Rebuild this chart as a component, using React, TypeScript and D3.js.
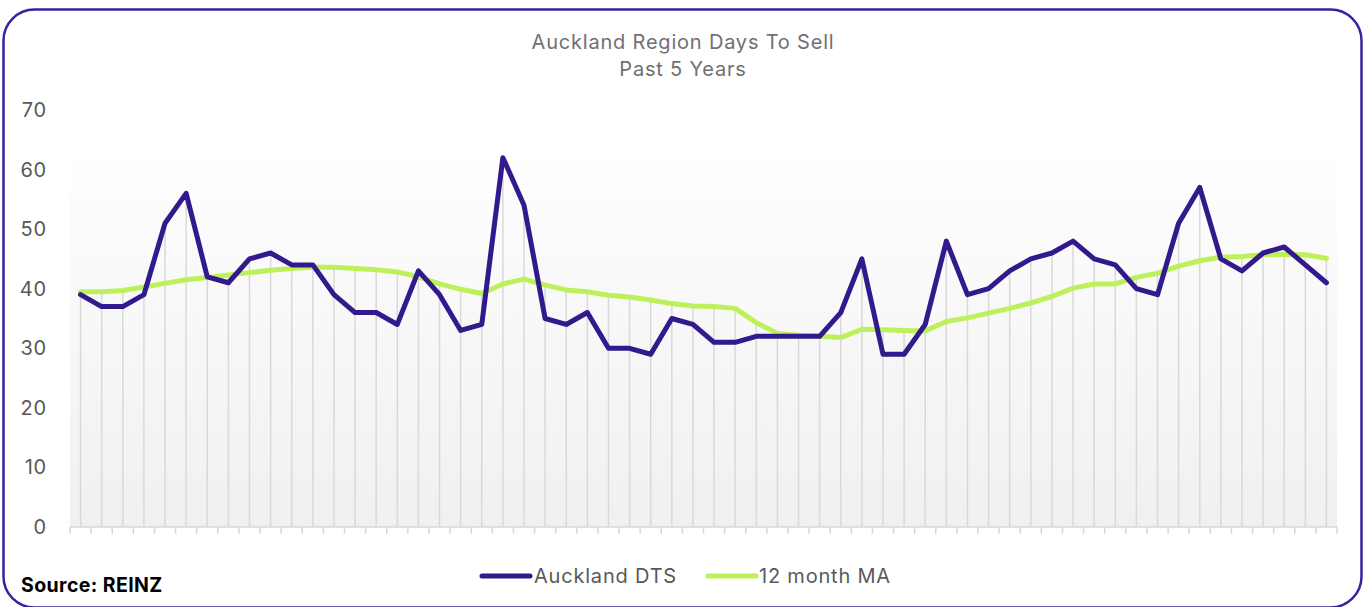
import React from "react";
import * as d3 from "d3";

const months: number[] = d3.range(60);
const dtsValues: number[] = [
  39, 37, 37, 39, 51, 56, 42, 41, 45, 46, 44, 44, 39, 36, 36, 34, 43, 39, 33, 34,
  62, 54, 35, 34, 36, 30, 30, 29, 35, 34, 31, 31, 32, 32, 32, 32, 36, 45, 29, 29,
  34, 48, 39, 40, 43, 45, 46, 48, 45, 44, 40, 39, 51, 57, 45, 43, 46, 47, 44, 41,
];
const maValues: number[] = [
  39.5, 39.5, 39.7, 40.3, 40.9, 41.5, 41.9, 42.3, 42.7, 43.1, 43.4, 43.6, 43.6, 43.4, 43.2, 42.8, 42.0, 40.8, 39.9, 39.2,
  40.8, 41.6, 40.6, 39.8, 39.5, 38.9, 38.6, 38.1, 37.5, 37.1, 37.0, 36.7, 34.3, 32.5, 32.2, 32.0, 31.8, 33.2, 33.1, 33.0,
  32.9, 34.5, 35.1, 35.9, 36.7, 37.6, 38.7, 40.1, 40.8, 40.8, 41.9, 42.6, 43.8, 44.7, 45.3, 45.4, 45.7, 45.8, 45.7, 45.1,
];
const yTicks: number[] = [0, 10, 20, 30, 40, 50, 60, 70];
const titleLines: string[] = ["Auckland Region Days To Sell", "Past 5 Years"];
const seriesNames: string[] = ["Auckland DTS", "12 month MA"];
const sourceText = "Source: REINZ";

const W = 1364;
const H = 607;
const PURPLE = "#32198c";
const GREEN = "#bdf05a";
const FONT = "Inter, 'Open Sans', sans-serif";

export default function App() {
  const plotL = 70;
  const plotR = 1337;
  const plotB = 527;
  const plotT = 110;

  const x = d3.scaleBand<number>().domain(months).range([plotL, plotR]).padding(0);
  const cx = (i: number) => (x(i) as number) + x.bandwidth() / 2;
  const y = d3.scaleLinear().domain([0, 70]).range([plotB, plotT]);

  const line = d3
    .line<number>()
    .x((_, i) => cx(i))
    .y((d) => y(d));

  const maxVal = d3.max(dtsValues) as number;
  const tickXs = months.map((m) => x(m) as number).concat([plotR]);

  return (
    <svg width={W} height={H} style={{ position: "absolute", left: 0, top: 0, display: "block" }}>
      <defs>
        <linearGradient id="bg" x1="0" y1="0" x2="0" y2="1">
          <stop offset="0%" stopColor="#fefefe" />
          <stop offset="100%" stopColor="#f0f0f0" />
        </linearGradient>
      </defs>
      <rect x={0} y={0} width={W} height={H} fill="#ffffff" />
      <rect
        x={3.5}
        y={9.5}
        width={1358}
        height={598}
        rx={31}
        ry={31}
        fill="none"
        stroke="#3a22a0"
        strokeWidth={2.5}
      />
      {titleLines.map((t, i) => (
        <text
          key={t}
          x={683}
          y={49 + i * 27}
          textAnchor="middle"
          fontFamily={FONT}
          fontSize={20}
          letterSpacing={0.8}
          fill="#707070"
        >
          {t}
        </text>
      ))}
      <rect x={plotL} y={y(maxVal)} width={plotR - plotL} height={plotB - y(maxVal)} fill="url(#bg)" />
      {months.map((m, i) => (
        <line
          key={"d" + m}
          x1={cx(i)}
          x2={cx(i)}
          y1={plotB}
          y2={y(Math.max(dtsValues[i], maValues[i]))}
          stroke="#d9d9d9"
          strokeWidth={1.5}
        />
      ))}
      <line x1={plotL} x2={plotR} y1={plotB} y2={plotB} stroke="#d9d9d9" strokeWidth={1.5} />
      {tickXs.map((tx, i) => (
        <line key={"t" + i} x1={tx} x2={tx} y1={plotB} y2={plotB + 7} stroke="#d9d9d9" strokeWidth={1.5} />
      ))}
      {yTicks.map((t) => (
        <text
          key={"y" + t}
          x={47}
          y={y(t)}
          dy="0.35em"
          textAnchor="end"
          fontFamily={FONT}
          fontSize={20}
          letterSpacing={0.8}
          fill="#595959"
        >
          {t}
        </text>
      ))}
      <path
        d={line(maValues) as string}
        fill="none"
        stroke={GREEN}
        strokeWidth={5}
        strokeLinejoin="round"
        strokeLinecap="round"
      />
      <path
        d={line(dtsValues) as string}
        fill="none"
        stroke={PURPLE}
        strokeWidth={5}
        strokeLinejoin="round"
        strokeLinecap="round"
      />
      <g>
        <line x1={482} x2={530} y1={576} y2={576} stroke={PURPLE} strokeWidth={5} strokeLinecap="round" />
        <text x={534} y={576} dy="0.35em" fontFamily={FONT} fontSize={20} letterSpacing={0.8} fill="#595959">
          {seriesNames[0]}
        </text>
        <line x1={708} x2={756} y1={576} y2={576} stroke={GREEN} strokeWidth={5} strokeLinecap="round" />
        <text x={759} y={576} dy="0.35em" fontFamily={FONT} fontSize={20} letterSpacing={0.8} fill="#595959">
          {seriesNames[1]}
        </text>
      </g>
      <text x={21} y={592} fontFamily={FONT} fontSize={19.5} letterSpacing={0.4} fontWeight={700} fill="#000000">
        {sourceText}
      </text>
    </svg>
  );
}
